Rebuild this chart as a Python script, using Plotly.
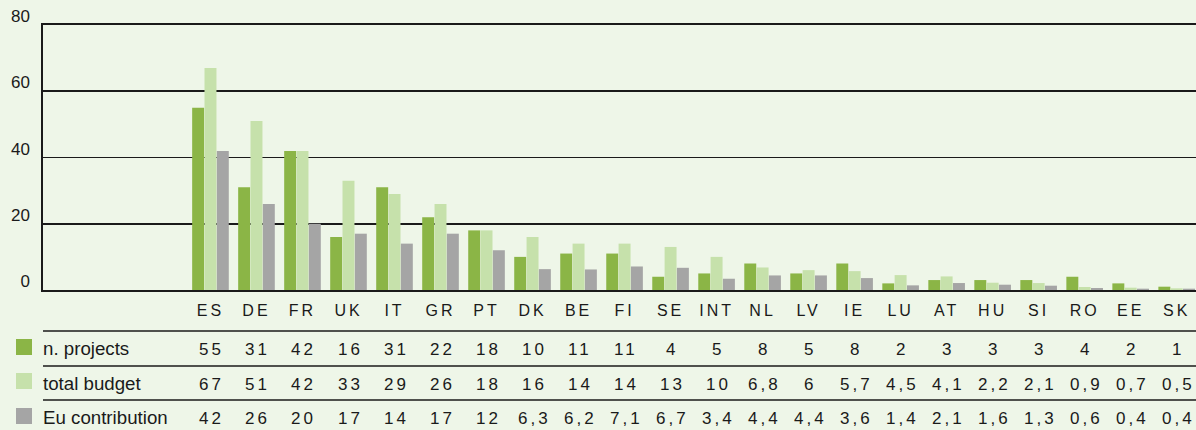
import plotly.graph_objects as go

W, H = 1196, 430

countries = ["ES", "DE", "FR", "UK", "IT", "GR", "PT", "DK", "BE", "FI", "SE",
             "INT", "NL", "LV", "IE", "LU", "AT", "HU", "SI", "RO", "EE", "SK"]
n_projects = [55, 31, 42, 16, 31, 22, 18, 10, 11, 11, 4, 5, 8, 5, 8, 2, 3, 3, 3, 4, 2, 1]
total_budget = [67, 51, 42, 33, 29, 26, 18, 16, 14, 14, 13, 10, 6.8, 6, 5.7, 4.5, 4.1,
                2.2, 2.1, 0.9, 0.7, 0.5]
eu_contribution = [42, 26, 20, 17, 14, 17, 12, 6.3, 6.2, 7.1, 6.7, 3.4, 4.4, 4.4, 3.6,
                   1.4, 2.1, 1.6, 1.3, 0.6, 0.4, 0.4]
series_names = ["n. projects", "total budget", "Eu contribution"]
y_ticks = [0, 20, 40, 60, 80]

colors = ["#8bb546", "#c6e1ab", "#a5a5a5"]
BG = "#eef6e8"
INK = "#1a1a1a"
FONT = "Liberation Sans, Arial, Helvetica, sans-serif"

series = [n_projects, total_budget, eu_contribution]


def fmt(v):
    s = f"{v:g}"
    return s.replace(".", ",")


def spaced(t, px):
    return f'<span style="letter-spacing:{px}px">{t}</span>'


def py(pix):
    return (H - pix) / H


def px_(pix):
    return pix / W


fig = go.Figure()
for name, vals, col in zip(series_names, series, colors):
    fig.add_trace(go.Bar(x=countries, y=vals, name=name, marker_color=col,
                         marker_line_width=0, showlegend=False))

x0 = 43
annotations = []
shapes = []

# table lines
for ly in [331, 366, 400]:
    shapes.append(dict(type="line", xref="paper", yref="paper",
                       x0=px_(x0), x1=1.0, y0=py(ly), y1=py(ly),
                       line=dict(color=INK, width=1.6)))

row_y = [349, 384, 418]
sq_y = [(339, 355), (373, 389), (408, 424)]
for r, (name, vals, col) in enumerate(zip(series_names, series, colors)):
    shapes.append(dict(type="rect", xref="paper", yref="paper",
                       x0=px_(16), x1=px_(32), y0=py(sq_y[r][1]), y1=py(sq_y[r][0]),
                       fillcolor=col, line_width=0))
    annotations.append(dict(text=name, xref="paper", yref="paper",
                            x=px_(40.5), y=py(row_y[r] - 1), xanchor="left", yanchor="middle",
                            showarrow=False, font=dict(size=18.7, color=INK, family=FONT)))
    for c, v in zip(countries, vals):
        annotations.append(dict(text=spaced(fmt(v), 3), xref="x", yref="paper",
                                x=c, y=py(row_y[r]), xanchor="center", yanchor="middle",
                                xshift=1.5,
                                showarrow=False, font=dict(size=17, color=INK, family=FONT)))

fig.update_layout(
    width=W, height=H,
    margin=dict(l=0, r=0, t=0, b=0, pad=0),
    paper_bgcolor=BG, plot_bgcolor=BG,
    barmode="group", bargap=0.196, bargroupgap=0.03,
    font=dict(family=FONT, color=INK),
    shapes=shapes, annotations=annotations,
    xaxis=dict(
        domain=[px_(x0), 1.0],
        range=[-3.64, 21.42],
        automargin=False,
        tickmode="array", tickvals=countries,
        ticktext=[spaced(c, 3) for c in countries],
        showgrid=False, showline=True, mirror=True, linecolor=INK, linewidth=1.8,
        ticks="", ticklabelstandoff=5,
        tickfont=dict(size=16, color=INK, family=FONT),
        fixedrange=True,
    ),
    yaxis=dict(
        domain=[py(290), py(25)],
        range=[0, 80],
        automargin=False,
        tickmode="array", tickvals=y_ticks,
        showgrid=True, gridcolor=INK, gridwidth=1.6,
        showline=True, linecolor=INK, linewidth=1.6,
        zeroline=False,
        ticks="", ticklabelposition="outside top", ticklabelstandoff=8,
        ticklabelshift=3,
        tickfont=dict(size=17, color=INK, family=FONT),
        fixedrange=True,
    ),
)

fig.write_html("out.html", config={"displayModeBar": False, "staticPlot": True},
               post_script="document.body.style.margin='0';document.body.style.overflow='hidden';")
